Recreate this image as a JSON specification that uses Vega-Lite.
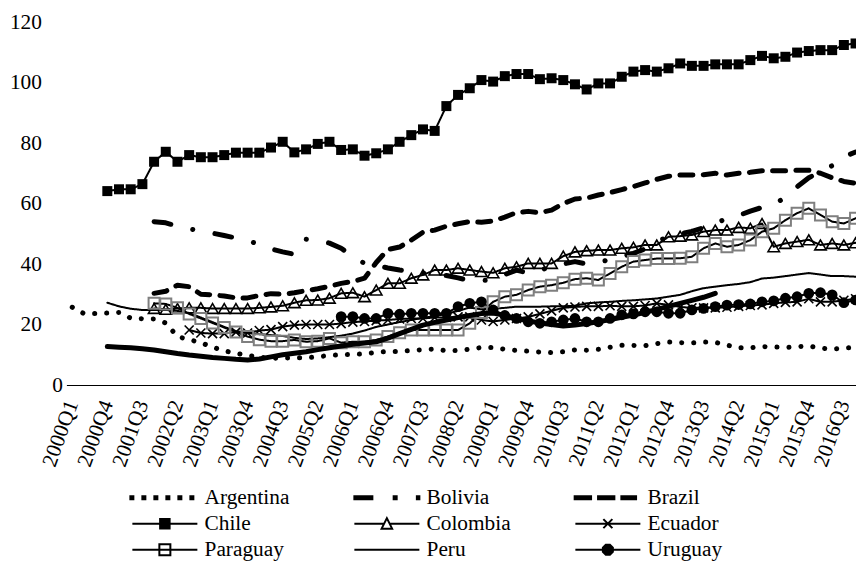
{
  "$schema": "https://vega.github.io/schema/vega-lite/v6.json",
  "width": 789.6,
  "height": 363,
  "autosize": {"type": "none"},
  "padding": {"left": 66.4, "top": 22, "right": 0, "bottom": 177},
  "background": "white",
  "config": {"view": {"stroke": null}, "font": "Liberation Serif"},
  "data": {"values": [
    {"q":"2000Q1","Argentina":25.7},
    {"q":"2000Q2","Argentina":23.6},
    {"q":"2000Q3","Argentina":23.6},
    {"q":"2000Q4","Argentina":23.8,"Chile":64.1,"Peru":27.2,"Other":12.7},
    {"q":"2001Q1","Argentina":24,"Chile":64.7,"Peru":26,"Other":12.5},
    {"q":"2001Q2","Argentina":22.1,"Chile":64.7,"Peru":25.2,"Other":12.3},
    {"q":"2001Q3","Argentina":21.9,"Chile":66.4,"Peru":24.8,"Other":12},
    {"q":"2001Q4","Argentina":21.8,"Bolivia":54,"Brazil":30.3,"Chile":73.8,"Colombia":25.3,"Paraguay":27,"Peru":24.8,"Other":11.6},
    {"q":"2002Q1","Argentina":20.5,"Bolivia":53.6,"Brazil":31,"Chile":77.1,"Colombia":25,"Paraguay":26.8,"Peru":24.8,"Other":11},
    {"q":"2002Q2","Argentina":16,"Bolivia":52.5,"Brazil":33,"Chile":73.8,"Colombia":25.3,"Paraguay":25.5,"Peru":24.5,"Other":10.4},
    {"q":"2002Q3","Argentina":15,"Bolivia":51.6,"Brazil":32.5,"Chile":76,"Colombia":25.5,"Ecuador":18.2,"Paraguay":23.5,"Peru":23.8,"Other":9.9},
    {"q":"2002Q4","Argentina":14,"Bolivia":51,"Brazil":30,"Chile":75.3,"Colombia":25.5,"Ecuador":17.2,"Paraguay":22,"Peru":22.3,"Other":9.5},
    {"q":"2003Q1","Argentina":12.5,"Bolivia":50.2,"Brazil":29.8,"Chile":75.3,"Colombia":25.3,"Ecuador":17,"Paraguay":20.5,"Peru":20.8,"Other":9.1},
    {"q":"2003Q2","Argentina":11.3,"Bolivia":49.4,"Brazil":29.4,"Chile":76,"Colombia":25.3,"Ecuador":17,"Paraguay":19,"Peru":19.2,"Other":8.8},
    {"q":"2003Q3","Argentina":10.5,"Bolivia":48.6,"Brazil":28.8,"Chile":76.8,"Colombia":25.3,"Ecuador":17.5,"Paraguay":17.5,"Peru":17.8,"Other":8.5},
    {"q":"2003Q4","Argentina":9.8,"Bolivia":47.6,"Brazil":28.8,"Chile":76.8,"Colombia":25.3,"Ecuador":17.2,"Paraguay":16,"Peru":17.2,"Other":8.3},
    {"q":"2004Q1","Argentina":9.2,"Bolivia":46.6,"Brazil":29.6,"Chile":76.8,"Colombia":25.5,"Ecuador":18,"Paraguay":15,"Peru":16.8,"Other":8.6},
    {"q":"2004Q2","Argentina":8.8,"Bolivia":45,"Brazil":30.2,"Chile":78.5,"Colombia":25.8,"Ecuador":18.3,"Paraguay":14.5,"Peru":16.5,"Other":9.3},
    {"q":"2004Q3","Argentina":8.9,"Bolivia":44,"Brazil":30,"Chile":80.4,"Colombia":26.2,"Ecuador":19.3,"Paraguay":14.5,"Peru":16.2,"Other":10},
    {"q":"2004Q4","Argentina":9,"Bolivia":43.2,"Brazil":30.5,"Chile":76.9,"Colombia":27.2,"Ecuador":19.8,"Paraguay":14.9,"Peru":15.6,"Other":10.5},
    {"q":"2005Q1","Argentina":9,"Bolivia":48.2,"Brazil":31.2,"Chile":77.9,"Colombia":28,"Ecuador":20,"Paraguay":14.3,"Peru":15.2,"Other":11},
    {"q":"2005Q2","Argentina":9.3,"Bolivia":47.8,"Brazil":31.8,"Chile":79.7,"Colombia":28.1,"Ecuador":20,"Paraguay":14.5,"Peru":15.4,"Other":11.7},
    {"q":"2005Q3","Argentina":9.8,"Bolivia":46.9,"Brazil":32.6,"Chile":80.4,"Colombia":28.7,"Ecuador":20,"Paraguay":15.4,"Peru":15.8,"Other":12.3},
    {"q":"2005Q4","Argentina":10,"Bolivia":45.2,"Brazil":33.6,"Chile":77.7,"Colombia":30.3,"Ecuador":20.3,"Paraguay":14,"Peru":16.3,"Uruguay":22.6,"Other":12.9},
    {"q":"2006Q1","Argentina":10.1,"Bolivia":42.5,"Brazil":34.2,"Chile":77.9,"Colombia":30.5,"Ecuador":20.8,"Paraguay":14.3,"Peru":17,"Uruguay":22.6,"Other":13.5},
    {"q":"2006Q2","Argentina":10.3,"Bolivia":40.2,"Brazil":35.3,"Chile":75.8,"Colombia":29.2,"Ecuador":21,"Paraguay":14.3,"Peru":18,"Uruguay":22,"Other":13.9},
    {"q":"2006Q3","Argentina":10.8,"Bolivia":39.5,"Brazil":40.5,"Chile":76.6,"Colombia":31.4,"Ecuador":21.3,"Paraguay":14.9,"Peru":19.2,"Uruguay":22,"Other":14.3},
    {"q":"2006Q4","Argentina":11.1,"Bolivia":38.7,"Brazil":44.8,"Chile":77.9,"Colombia":33.6,"Ecuador":21.5,"Paraguay":16,"Peru":20,"Uruguay":23.7,"Other":15.5},
    {"q":"2007Q1","Argentina":11.1,"Bolivia":38,"Brazil":45.6,"Chile":80.4,"Colombia":33.6,"Ecuador":21.8,"Paraguay":17.3,"Peru":20.8,"Uruguay":23.4,"Other":17},
    {"q":"2007Q2","Argentina":11.4,"Bolivia":37.5,"Brazil":47.9,"Chile":82.6,"Colombia":35.3,"Ecuador":22,"Paraguay":18.2,"Peru":21.5,"Uruguay":23.7,"Other":18.4},
    {"q":"2007Q3","Argentina":11.7,"Bolivia":37,"Brazil":50.5,"Chile":84.5,"Colombia":36.4,"Ecuador":22,"Paraguay":18.2,"Peru":22.2,"Uruguay":23.7,"Other":19.8},
    {"q":"2007Q4","Argentina":11.9,"Bolivia":36.5,"Brazil":51.2,"Chile":84,"Colombia":38,"Ecuador":22.3,"Paraguay":18.2,"Peru":22.8,"Uruguay":23.7,"Other":20.7},
    {"q":"2008Q1","Argentina":11.3,"Bolivia":36.2,"Brazil":52.5,"Chile":92.2,"Colombia":38,"Ecuador":22.3,"Paraguay":18.2,"Peru":23.5,"Uruguay":23.7,"Other":21.5},
    {"q":"2008Q2","Argentina":11.4,"Bolivia":35.4,"Brazil":53.3,"Chile":95.9,"Colombia":38.6,"Ecuador":22.5,"Paraguay":18.2,"Peru":24.5,"Uruguay":25.9,"Other":22.3},
    {"q":"2008Q3","Argentina":11.8,"Bolivia":34.5,"Brazil":54,"Chile":98.1,"Colombia":38,"Ecuador":22.5,"Paraguay":20.4,"Peru":25.6,"Uruguay":27,"Other":23},
    {"q":"2008Q4","Argentina":12.4,"Bolivia":34.5,"Brazil":53.8,"Chile":100.8,"Colombia":37.5,"Ecuador":21.5,"Paraguay":24,"Peru":25,"Uruguay":27.5,"Other":23.6},
    {"q":"2009Q1","Argentina":12.4,"Bolivia":34.8,"Brazil":54.2,"Chile":100.3,"Colombia":37.1,"Ecuador":21,"Paraguay":27.5,"Peru":25.2,"Uruguay":24.8,"Other":23.8},
    {"q":"2009Q2","Argentina":11.8,"Bolivia":36.5,"Brazil":55.5,"Chile":102.1,"Colombia":38.6,"Ecuador":21.5,"Paraguay":29.2,"Peru":25.5,"Uruguay":23,"Other":23},
    {"q":"2009Q3","Argentina":11.4,"Bolivia":38,"Brazil":57,"Chile":102.8,"Colombia":39.1,"Ecuador":22,"Paraguay":29.8,"Peru":25.9,"Uruguay":22,"Other":22},
    {"q":"2009Q4","Argentina":11.2,"Bolivia":37,"Brazil":57.4,"Chile":102.8,"Colombia":40.2,"Ecuador":22.5,"Paraguay":31.4,"Peru":25.9,"Uruguay":20.9,"Other":21.2},
    {"q":"2010Q1","Argentina":10.9,"Bolivia":38,"Brazil":57,"Chile":101.1,"Colombia":40.2,"Ecuador":23.5,"Paraguay":32.5,"Peru":25.9,"Uruguay":20.4,"Other":20.5},
    {"q":"2010Q2","Argentina":10.7,"Bolivia":39,"Brazil":57.8,"Chile":101.4,"Colombia":40.2,"Ecuador":24.5,"Paraguay":33,"Peru":26,"Uruguay":20.9,"Other":20},
    {"q":"2010Q3","Argentina":11,"Bolivia":40,"Brazil":60,"Chile":100.8,"Colombia":42.6,"Ecuador":25.5,"Paraguay":33.8,"Peru":26,"Uruguay":21.5,"Other":19.5},
    {"q":"2010Q4","Argentina":11.6,"Bolivia":40.8,"Brazil":61.5,"Chile":99.4,"Colombia":44,"Ecuador":25.8,"Paraguay":35,"Peru":26.2,"Uruguay":22,"Other":19.8},
    {"q":"2011Q1","Argentina":11.5,"Bolivia":40,"Brazil":61.8,"Chile":97.7,"Colombia":44.4,"Ecuador":26,"Paraguay":35.3,"Peru":27,"Uruguay":20.9,"Other":20.3},
    {"q":"2011Q2","Argentina":11.8,"Bolivia":40.5,"Brazil":62.8,"Chile":99.7,"Colombia":44.6,"Ecuador":26,"Paraguay":34.7,"Peru":27.3,"Uruguay":20.9,"Other":20.9},
    {"q":"2011Q3","Argentina":12.5,"Bolivia":41.5,"Brazil":63.6,"Chile":99.7,"Colombia":44.6,"Ecuador":26.2,"Paraguay":36.9,"Peru":27.5,"Uruguay":22,"Other":21.6},
    {"q":"2011Q4","Argentina":13.1,"Bolivia":42.5,"Brazil":64.6,"Chile":101.9,"Colombia":45.2,"Ecuador":26,"Paraguay":39.1,"Peru":27.8,"Uruguay":23.2,"Other":22.4},
    {"q":"2012Q1","Argentina":13.1,"Bolivia":43.5,"Brazil":65.6,"Chile":103.6,"Colombia":45.5,"Ecuador":26,"Paraguay":40.8,"Peru":28,"Uruguay":23.5,"Other":23.1},
    {"q":"2012Q2","Argentina":13,"Bolivia":45,"Brazil":66.8,"Chile":104.1,"Colombia":46.3,"Ecuador":26.3,"Paraguay":41.3,"Peru":28.3,"Uruguay":24.2,"Other":24},
    {"q":"2012Q3","Argentina":13.7,"Bolivia":47.5,"Brazil":68,"Chile":103.6,"Colombia":46.3,"Ecuador":27,"Paraguay":41.8,"Peru":28.6,"Uruguay":24.2,"Other":25},
    {"q":"2012Q4","Argentina":14.2,"Bolivia":49,"Brazil":69,"Chile":104.7,"Colombia":49,"Ecuador":26.5,"Paraguay":41.8,"Peru":29.2,"Uruguay":23.7,"Other":26},
    {"q":"2013Q1","Argentina":14,"Bolivia":50,"Brazil":69.4,"Chile":106.3,"Colombia":49.2,"Ecuador":25.8,"Paraguay":41.9,"Peru":29.8,"Uruguay":23.7,"Other":27},
    {"q":"2013Q2","Argentina":13.9,"Bolivia":50.8,"Brazil":69.4,"Chile":105.5,"Colombia":49.6,"Ecuador":25.5,"Paraguay":42.4,"Peru":31,"Uruguay":24.8,"Other":28},
    {"q":"2013Q3","Argentina":14.2,"Bolivia":52,"Brazil":69.5,"Chile":105.5,"Colombia":50.7,"Ecuador":25.5,"Paraguay":45.2,"Peru":32,"Uruguay":25.3,"Other":29},
    {"q":"2013Q4","Argentina":14.1,"Bolivia":53.5,"Brazil":70,"Chile":106,"Colombia":51.2,"Ecuador":25.5,"Paraguay":46.8,"Peru":32.5,"Uruguay":25.9,"Other":30.3},
    {"q":"2014Q1","Argentina":13.2,"Bolivia":55,"Brazil":69.4,"Chile":106,"Colombia":51.2,"Ecuador":25.7,"Paraguay":45.7,"Peru":33,"Uruguay":26.4},
    {"q":"2014Q2","Argentina":12.3,"Bolivia":56,"Brazil":70,"Chile":106,"Colombia":52.1,"Ecuador":26,"Paraguay":46.3,"Peru":33.4,"Uruguay":26.6},
    {"q":"2014Q3","Argentina":12.3,"Bolivia":57.5,"Brazil":70.3,"Chile":107.4,"Colombia":51.8,"Ecuador":26.3,"Paraguay":47.9,"Peru":34,"Uruguay":26.8},
    {"q":"2014Q4","Argentina":12.7,"Bolivia":58.7,"Brazil":70.8,"Chile":108.8,"Colombia":53.4,"Ecuador":26.5,"Paraguay":50.7,"Peru":35.2,"Uruguay":27.5},
    {"q":"2015Q1","Argentina":12.6,"Bolivia":59.7,"Brazil":70.8,"Chile":108,"Colombia":45.7,"Ecuador":27,"Paraguay":51.8,"Peru":35.5,"Uruguay":27.8},
    {"q":"2015Q2","Argentina":12.4,"Bolivia":62,"Brazil":70.8,"Chile":108.5,"Colombia":46.8,"Ecuador":27.3,"Paraguay":54.5,"Peru":36,"Uruguay":28.7},
    {"q":"2015Q3","Argentina":12.7,"Bolivia":65.5,"Brazil":71,"Chile":109.9,"Colombia":47.4,"Ecuador":27.5,"Paraguay":56.8,"Peru":36.5,"Uruguay":29.2},
    {"q":"2015Q4","Argentina":12.9,"Bolivia":68.5,"Brazil":71,"Chile":110.4,"Colombia":48,"Ecuador":28.5,"Paraguay":58.4,"Peru":37,"Uruguay":30.3},
    {"q":"2016Q1","Argentina":12.2,"Bolivia":70.5,"Brazil":70,"Chile":110.7,"Colombia":46.3,"Ecuador":27.5,"Paraguay":56.2,"Peru":36.5,"Uruguay":30.5},
    {"q":"2016Q2","Argentina":11.8,"Bolivia":72.5,"Brazil":68.5,"Chile":110.7,"Colombia":46.8,"Ecuador":27.5,"Paraguay":54,"Peru":36,"Uruguay":29.8},
    {"q":"2016Q3","Argentina":12.2,"Bolivia":75.5,"Brazil":67.3,"Chile":112.4,"Colombia":46.3,"Ecuador":28,"Paraguay":53.4,"Peru":36,"Uruguay":27.2},
    {"q":"2016Q4","Argentina":12.4,"Bolivia":77,"Brazil":66.7,"Chile":112.9,"Colombia":47,"Ecuador":28.5,"Paraguay":55.1,"Peru":35.8,"Uruguay":28.1}
  ]},
  "transform": [
    {"fold": ["Argentina","Bolivia","Brazil","Chile","Colombia","Ecuador","Paraguay","Peru","Uruguay","Other"], "as": ["country","v"]},
    {"filter": "isValid(datum.v)"}
  ],
  "encoding": {
    "x": {
      "field": "q", "type": "ordinal",
      "scale": {"type": "point", "padding": 0.5, "range": [0, 795]},
      "axis": {
        "title": null,
        "values": ["2000Q1","2000Q4","2001Q3","2002Q2","2003Q1","2003Q4","2004Q3","2005Q2","2006Q1","2006Q4","2007Q3","2008Q2","2009Q1","2009Q4","2010Q3","2011Q2","2012Q1","2012Q4","2013Q3","2014Q2","2015Q1","2015Q4","2016Q3"],
        "ticks": false, "grid": false,
        "domainColor": "black", "domainWidth": 1,
        "labelAngle": -70, "labelAlign": "right", "labelBaseline": "middle",
        "labelPadding": 16, "labelFont": "Liberation Serif", "labelFontSize": 21.33,
        "labelColor": "black", "labelOverlap": false, "labelBound": false, "labelFlush": false
      }
    },
    "y": {
      "field": "v", "type": "quantitative",
      "scale": {"domain": [0, 120], "nice": false, "zero": true},
      "axis": {
        "title": null, "orient": "left", "values": [20,40,60,80,100,120],
        "domain": false, "ticks": false, "grid": false,
        "labelFont": "Liberation Serif", "labelFontSize": 21.33, "labelColor": "black",
        "labelPadding": 25, "labelFlush": false
      }
    }
  },
  "layer": [
    {
      "layer": [
        {
          "transform": [{"filter": "datum.country !== 'Other'"}],
          "mark": {"type": "line", "color": "black", "strokeCap": "round", "strokeJoin": "round"},
          "encoding": {
            "strokeDash": {
              "field": "country", "type": "nominal",
              "scale": {
                "range": [[0.1,11.9],[17,22.5,0.1,22.5],[13,10.3],[1,0],[1,0],[1,0],[1,0],[1,0],[1,0]]
              },
              "legend": null
            },
            "strokeWidth": {"condition": {"test": "indexof(['Argentina','Bolivia','Brazil'], datum.country) >= 0", "value": 5}, "value": 2}
          }
        },
        {
          "transform": [{"filter": "datum.country === 'Chile'"}],
          "mark": {"type": "point", "shape": "square", "filled": true, "color": "black", "size": 100, "opacity": 1}
        },
        {
          "transform": [{"filter": "datum.country === 'Colombia'"}],
          "mark": {"type": "point", "shape": "triangle-up", "filled": false, "color": "black", "strokeWidth": 1.6, "size": 130, "opacity": 1}
        },
        {
          "transform": [{"filter": "datum.country === 'Ecuador'"}],
          "mark": {"type": "point", "shape": "M-1,-1L1,1M-1,1L1,-1", "filled": false, "color": "black", "strokeWidth": 1.6, "size": 81, "opacity": 1}
        },
        {
          "transform": [{"filter": "datum.country === 'Paraguay'"}],
          "mark": {"type": "point", "shape": "square", "filled": false, "color": "#7f7f7f", "strokeWidth": 2, "size": 121, "opacity": 1}
        },
        {
          "transform": [{"filter": "datum.country === 'Uruguay'"}],
          "mark": {"type": "point", "shape": "circle", "filled": true, "color": "black", "size": 115, "opacity": 1}
        },
        {
          "transform": [{"filter": "datum.country !== 'Other'"}],
          "mark": {"type": "point", "filled": true, "stroke": "black", "strokeWidth": 2, "size": 100, "opacity": 0},
          "encoding": {
            "shape": {
              "field": "country", "type": "nominal",
              "scale": {
                "domain": ["Argentina","Bolivia","Brazil","Chile","Colombia","Ecuador","Paraguay","Peru","Uruguay"],
                "range": [
                  "M-6.9,-0.3H-6.3V0.3H-6.9ZM-4.5,-0.3H-3.9V0.3H-4.5ZM-2.1,-0.3H-1.5V0.3H-2.1ZM0.3,-0.3H0.9V0.3H0.3ZM2.7,-0.3H3.3V0.3H2.7ZM5.1,-0.3H5.7V0.3H5.1Z",
                  "M-6.5,-0.3H-2.9V0.3H-6.5ZM1.36,-0.3H1.96V0.3H1.36ZM6,-0.3H6.5V0.3H6Z",
                  "M-6.64,-0.3H-3.36V0.3H-6.64ZM-1.96,-0.3H1.3V0.3H-1.96ZM2.7,-0.3H5.64V0.3H2.7Z",
                  "M-6.5,0H6.5M-0.95,-0.95H0.95V0.95H-0.95Z",
                  "M-6.5,0H-0.55M0.55,0H6.5M0,-1.1L1.05,1H-1.05Z",
                  "M-6.5,0H6.5M-0.9,-0.9L0.9,0.9M-0.9,0.9L0.9,-0.9",
                  "M-6.5,0H6.5M-1.1,-1.1H1.1V1.1H-1.1Z",
                  "M-6.5,0H6.5",
                  "M-6.5,0H6.5M1,0.41L0.41,1L-0.41,1L-1,0.41L-1,-0.41L-0.41,-1L0.41,-1L1,-0.41Z"
                ]
              },
              "legend": {
                "orient": "none", "direction": "horizontal", "legendX": 66, "legendY": 465, "columns": 3, "title": null,
                "labelFont": "Liberation Serif", "labelFontSize": 21.33, "labelColor": "black",
                "symbolSize": 100, "symbolOffset": 21.8, "labelOffset": 29, "symbolFillColor": "black",
                "symbolStrokeColor": "black", "symbolStrokeWidth": 2, "symbolOpacity": 1,
                "columnPadding": 59, "rowPadding": 4, "padding": 0, "gridAlign": "each", "labelLimit": 300
              }
            },
            "fill": {
              "field": "country", "type": "nominal",
              "scale": {
                "domain": ["Argentina","Bolivia","Brazil","Chile","Colombia","Ecuador","Paraguay","Peru","Uruguay"],
                "range": ["black","black","black","black","white","black","transparent","black","black"]
              },
              "legend": {
                "orient": "none", "direction": "horizontal", "legendX": 66, "legendY": 465, "columns": 3, "title": null,
                "labelFont": "Liberation Serif", "labelFontSize": 21.33, "labelColor": "black",
                "symbolSize": 100, "symbolOffset": 21.8, "labelOffset": 29, "symbolFillColor": "black",
                "symbolStrokeColor": "black", "symbolStrokeWidth": 2, "symbolOpacity": 1,
                "columnPadding": 59, "rowPadding": 4, "padding": 0, "gridAlign": "each", "labelLimit": 300
              }
            }
          }
        }
      ]
    },
    {
      "transform": [{"filter": "datum.country === 'Other'"}],
      "mark": {"type": "line", "color": "black", "strokeWidth": 5, "strokeCap": "round", "strokeJoin": "round"},
      "encoding": {
        "y": {
          "field": "v", "type": "quantitative",
          "scale": {"domain": [0, 120], "nice": false, "zero": true},
          "axis": {
            "title": null, "orient": "left", "values": [0],
            "domain": false, "ticks": false, "grid": false,
            "labelFont": "Liberation Serif", "labelFontSize": 21.33, "labelColor": "black",
            "labelPadding": 4, "labelFlush": false
          }
        }
      }
    }
  ],
  "resolve": {"scale": {"y": "independent"}}
}
